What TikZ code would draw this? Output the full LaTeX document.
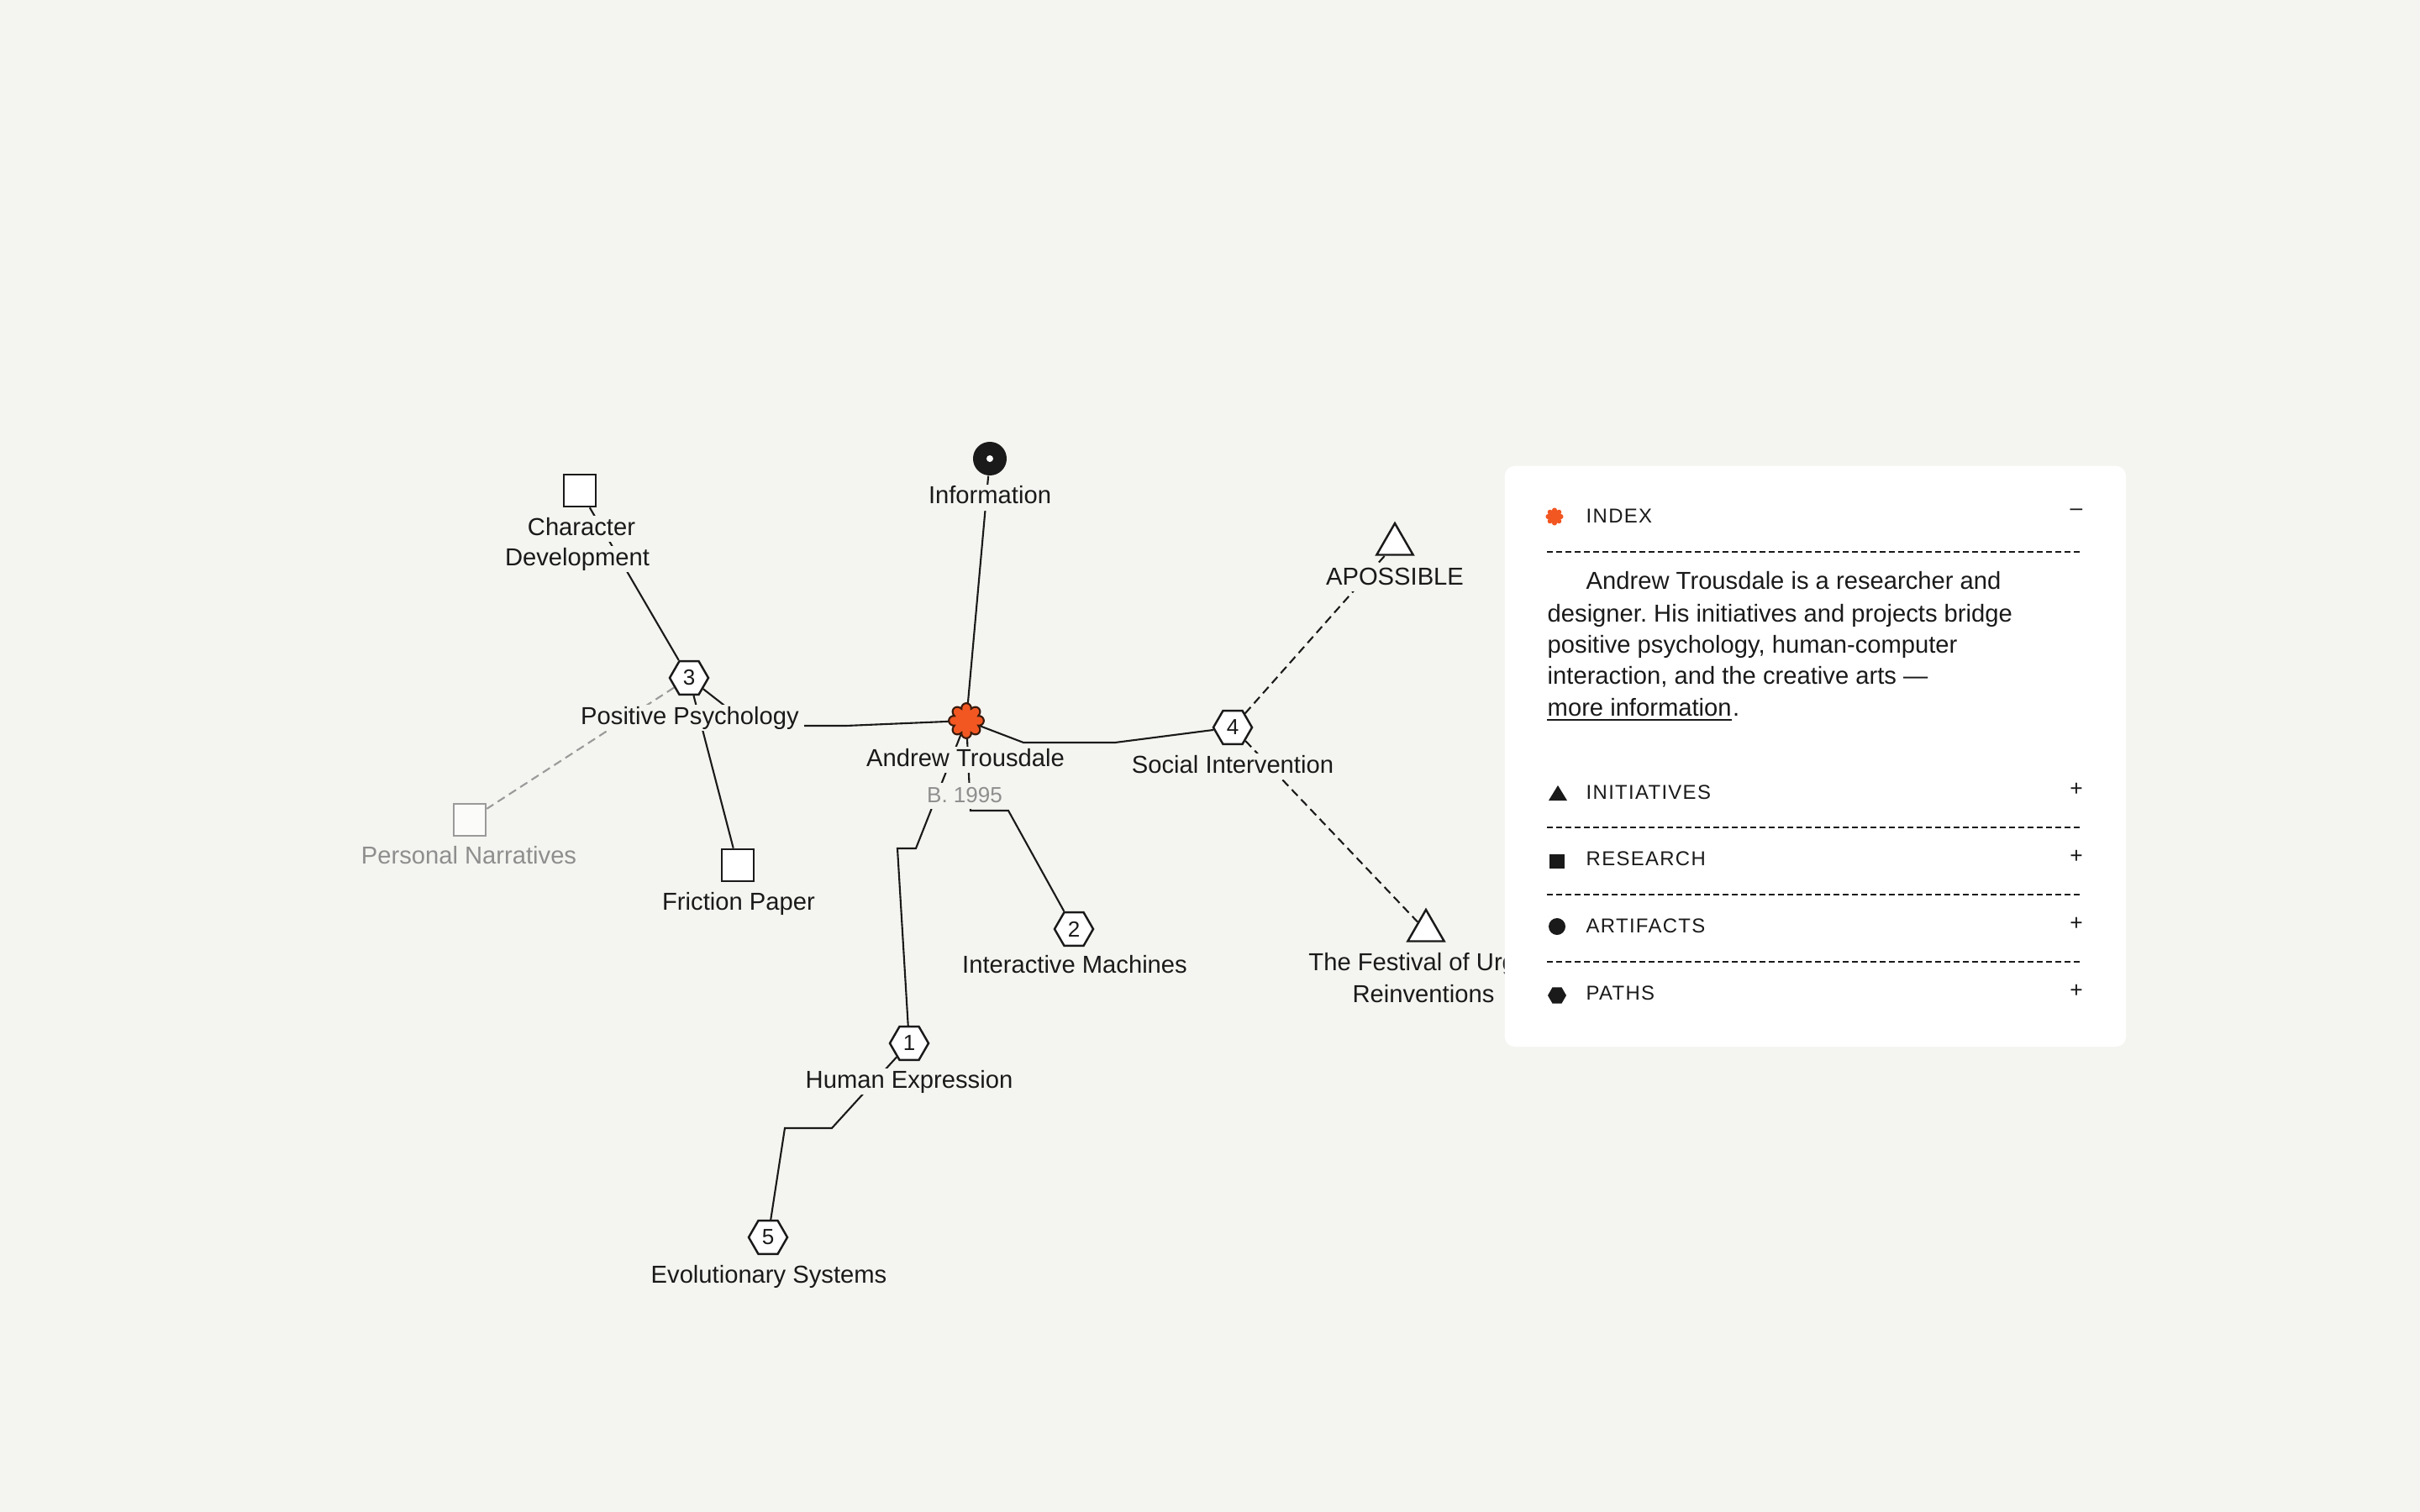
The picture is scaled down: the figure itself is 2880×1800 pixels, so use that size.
\documentclass[tikz,border=0pt]{standalone}
\usepackage{fontspec}
\setmainfont{Liberation Sans}
\newfontfamily\capsfont{Liberation Sans}[LetterSpace=5.5]
\usetikzlibrary{shapes.geometric}
\frenchspacing
\definecolor{bgc}{HTML}{F4F4F0}
\definecolor{ink}{HTML}{1A1A1A}
\definecolor{faded}{HTML}{8E8E8E}
\definecolor{fadedline}{HTML}{9A9A9A}
\definecolor{flowerc}{HTML}{F25722}
\definecolor{flowerline}{HTML}{3A1A0C}
\pgfdeclarelayer{bglayer}
\pgfdeclarelayer{edgelayer}
\pgfsetlayers{bglayer,edgelayer,main}
\tikzset{
  lbl/.style={font=\fontsize{8.3pt}{10pt}\selectfont, text=ink, fill=bgc, inner xsep=0.06cm, inner ysep=0.02cm, text height=0.21cm, text depth=0.06cm, anchor=base},
  lblfaded/.style={lbl, text=faded},
  hexnode/.style={regular polygon, regular polygon sides=6, minimum size=0.46cm, inner sep=0pt, draw=ink, fill=white, line width=0.7pt, font=\fontsize{7.4pt}{9pt}\selectfont, text=ink},
  sqnode/.style={rectangle, minimum size=0.38cm, inner sep=0pt, draw=ink, fill=white, line width=0.75pt},
  sqfaded/.style={sqnode, draw=fadedline, fill=white!60!bgc},
  trinode/.style={regular polygon, regular polygon sides=3, minimum size=0.5cm, inner sep=0pt, draw=ink, fill=white, line width=0.7pt},
  conn/.style={draw=ink, line width=0.6pt},
  dconn/.style={conn, dash pattern=on 0.1cm off 0.06cm},
  dfaded/.style={dconn, draw=fadedline},
  ptext/.style={font=\fontsize{8.3pt}{10pt}\selectfont, text=ink, inner sep=0pt, anchor=base west},
  hdr/.style={font=\capsfont\fontsize{6.8pt}{8pt}\selectfont, text=ink, inner sep=0pt, anchor=base west},
  sign/.style={font=\fontsize{7.5pt}{9pt}\selectfont, text=ink, inner sep=0pt},
  pdash/.style={draw=ink, line width=0.55pt, dash pattern=on 0.065cm off 0.045cm},
  panelbox/.style={fill=white, rounded corners=0.12cm, inner sep=0pt, anchor=north west}
}
\begin{document}
\begin{tikzpicture}[x=0.01cm,y=-0.01cm]
\begin{pgfonlayer}{bglayer}
\fill[bgc] (0,0) rectangle (2880,1800);
\end{pgfonlayer}
\useasboundingbox (0,0) rectangle (2880,1800);

% ---- shape nodes ----
\node[circle, minimum size=0.2cm, inner sep=0pt] (andrew) at (1150,858) {};
\draw[fill=flowerc, draw=flowerline, line width=0.6pt, shift={(andrew.center)}]
  plot[domain=0:358, samples=180, smooth cycle] (\x:{14.5+6.3*abs(cos(4*\x))^0.6});

\node[circle, minimum size=0.40cm, inner sep=0pt, fill=ink] (info) at (1178,546) {};
\fill[white] (info.center) circle (0.04cm);

\node[sqnode] (chardev) at (690,584) {};
\node[sqfaded] (personal) at (559,976) {};
\node[sqnode] (friction) at (878,1030) {};

\node[hexnode] (hex3) at (820,807) {3};
\node[hexnode] (hex4) at (1467,866) {4};
\node[hexnode] (hex2) at (1278,1106) {2};
\node[hexnode] (hex1) at (1082,1242) {1};
\node[hexnode] (hex5) at (914,1473) {5};

\node[trinode] (apossible) at (1660,648) {};
\node[trinode] (festival) at (1697,1108) {};

% ---- labels ----
\node[lbl] (infolbl) at (1178,600) {Information};
\node[lbl] (chardevlbla) at (692,637) {Character};
\node[lbl] (chardevlblb) at (687,673) {Development};
\node[lbl] (pplbl) at (821,862) {Positive Psychology};
\node[lblfaded] (pnlbl) at (558,1028) {Personal Narratives};
\node[lbl] (fplbl) at (879,1083) {Friction Paper};
\node[lbl] (atlbl) at (1149,912) {Andrew Trousdale};
\node[lblfaded, font=\fontsize{7.4pt}{9pt}\selectfont] (birthlbl) at (1148,955) {B. 1995};
\node[lbl] (silbl) at (1467,920) {Social Intervention};
\node[lbl] (aplbl) at (1660,696) {APOSSIBLE};
\node[lbl] (feslbla) at (1701,1155) {The Festival of Urgent};
\node[lbl] (feslblb) at (1694,1193) {Reinventions};
\node[lbl] (imlbl) at (1279,1158) {Interactive Machines};
\node[lbl] (helbl) at (1082,1295) {Human Expression};
\node[lbl] (eslbl) at (915,1527) {Evolutionary Systems};

% ---- connectors ----
\begin{pgfonlayer}{edgelayer}
\draw[conn] (andrew) -- (info);
\draw[conn] (hex3) -- (chardev);
\draw[conn] (hex3) -- (friction);
\draw[dfaded] (hex3) -- (personal);
\draw[conn] (hex3) -- (893,864) -- (1007,864) -- (andrew);
\draw[conn] (andrew) -- (1218,884) -- (1327,884) -- (hex4);
\draw[dconn] (hex4) -- (apossible);
\draw[dconn] (hex4) -- (festival);
\draw[conn] (andrew) -- (1155,965) -- (1200,965) -- (hex2);
\draw[conn] (andrew) -- (1090,1010) -- (1068,1010) -- (hex1);
\draw[conn] (hex1) -- (990,1343) -- (934,1343) -- (hex5);
\end{pgfonlayer}

% ---- panel ----
\node[panelbox, minimum width=7.39cm, minimum height=6.91cm] (panel) at (1790,554) {};

\fill[flowerc, shift={(1850,615)}]
  plot[domain=0:358, samples=180, smooth cycle] (\x:{7.3+3.1*abs(cos(4*\x))^0.6});
\node[hdr] (idx) at (1887,622) {INDEX};
\node[sign] (idxsign) at (2471,610) {–};
\draw[pdash] (1841,657) -- (2479,657);

\node[ptext] (p1) at (1887,702) {Andrew Trousdale is a researcher and};
\node[ptext] (p2) at (1841,740) {designer. His initiatives and projects bridge};
\node[ptext] (p3) at (1841,777) {positive psychology, human-computer};
\node[ptext] (p4) at (1841,814) {interaction, and the creative arts —};
\node[ptext] (p5) at (1841,852) {more information};
\node[ptext] (p5dot) at (p5.base east) {.};
\draw[draw=ink, line width=0.6pt] ([yshift=-0.05cm]p5.base west) -- ([yshift=-0.05cm]p5.base east);

\fill[ink] (1843,953) -- (1865,953) -- (1854,935) -- cycle;
\node[hdr] (ini) at (1887,951) {INITIATIVES};
\node[sign] (inisign) at (2471,940) {+};
\draw[pdash] (1841,985) -- (2479,985);

\fill[ink] (1844,1017) rectangle (1862,1034);
\node[hdr] (res) at (1887,1030) {RESEARCH};
\node[sign] (ressign) at (2471,1020) {+};
\draw[pdash] (1841,1065) -- (2479,1065);

\fill[ink] (1853,1103) circle (0.1cm);
\node[hdr] (art) at (1887,1110) {ARTIFACTS};
\node[sign] (artsign) at (2471,1100) {+};
\draw[pdash] (1841,1145) -- (2479,1145);

\node[regular polygon, regular polygon sides=6, minimum size=0.22cm, inner sep=0pt, fill=ink] (pathicon) at (1853,1185) {};
\node[hdr] (pth) at (1887,1190) {PATHS};
\node[sign] (pthsign) at (2471,1180) {+};
\end{tikzpicture}
\end{document}
